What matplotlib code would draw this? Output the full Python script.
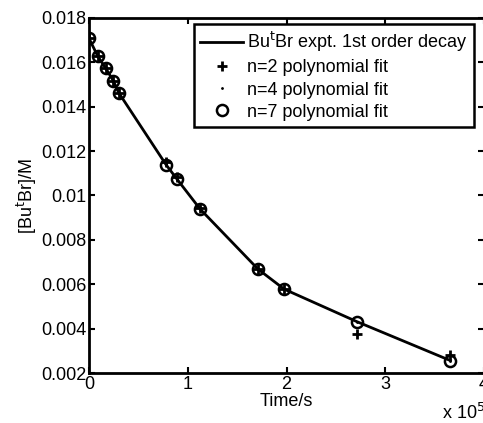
import numpy as np
import matplotlib
matplotlib.use("Agg")
import matplotlib.pyplot as plt
from matplotlib.ticker import FuncFormatter

plt.rcParams["font.family"] = ["Liberation Sans", "DejaVu Sans"]

# time in s, concentration in M
time_s = [0, 9000, 17000, 24500, 30000, 78000, 88900, 112500, 171200, 197600, 271000, 366000]
conc_expt = [0.01708, 0.01627, 0.01573, 0.01518, 0.01464, 0.01139, 0.01075,
             0.00939, 0.00668, 0.00578, 0.00432, 0.00256]
conc_n2 = [0.01708, 0.01627, 0.01573, 0.01518, 0.01464, 0.01150, 0.01085,
           0.00945, 0.00668, 0.00578, 0.00378, 0.00280]
conc_n4 = [0.01708, 0.01627, 0.01573, 0.01518, 0.01464, 0.01140, 0.01076,
           0.00939, 0.00668, 0.00578, 0.00432, 0.00256]
conc_n7 = [0.01708, 0.01627, 0.01573, 0.01518, 0.01464, 0.01139, 0.01075,
           0.00939, 0.00668, 0.00578, 0.00432, 0.00256]

fs = 13

fig = plt.figure(figsize=(4.83, 4.23), dpi=100)
ax = fig.add_axes([89 / 483, 50 / 423, 395 / 483, 355 / 423])

ax.plot(time_s, conc_expt, color="black", lw=2, label="Bu$^{\\rm t}$Br expt. 1st order decay")
ax.plot(time_s, conc_n2, ls="none", marker="+", ms=7, mew=2, color="black", label="n=2 polynomial fit")
ax.plot(time_s, conc_n4, ls="none", marker=".", ms=2, color="black", label="n=4 polynomial fit")
ax.plot(time_s, conc_n7, ls="none", marker="o", ms=8, mew=1.8, mfc="none", mec="black", label="n=7 polynomial fit")

ax.set_xlim(0, 4e5)
ax.set_ylim(0.002, 0.018)
ax.set_xticks([0, 1e5, 2e5, 3e5, 4e5])
ax.set_yticks(np.arange(0.002, 0.0181, 0.002))
ax.xaxis.set_major_formatter(FuncFormatter(lambda v, p: "%g" % (v / 1e5)))
ax.yaxis.set_major_formatter(FuncFormatter(lambda v, p: "%g" % round(v, 3)))
ax.tick_params(direction="in", top=True, right=True, length=4, width=1.5, labelsize=fs, pad=2)
for s in ax.spines.values():
    s.set_linewidth(2)

ax.set_xlabel("Time/s", fontsize=fs, labelpad=0)
ax.set_ylabel("[Bu$^{\\rm t}$Br]/M", fontsize=fs, labelpad=1)
fig.text(442 / 483, 0, "x 10$^5$", fontsize=fs, ha="left", va="bottom")

leg = ax.legend(loc="upper right", bbox_to_anchor=(474 / 483, 1 - 24 / 423),
                bbox_transform=fig.transFigure, borderaxespad=0, fancybox=False,
                framealpha=1, edgecolor="black", fontsize=fs, handlelength=2.4,
                handletextpad=0.2, labelspacing=0.28, borderpad=0.35)
leg.get_frame().set_linewidth(1.8)

fig.savefig("out.png", dpi=100)
